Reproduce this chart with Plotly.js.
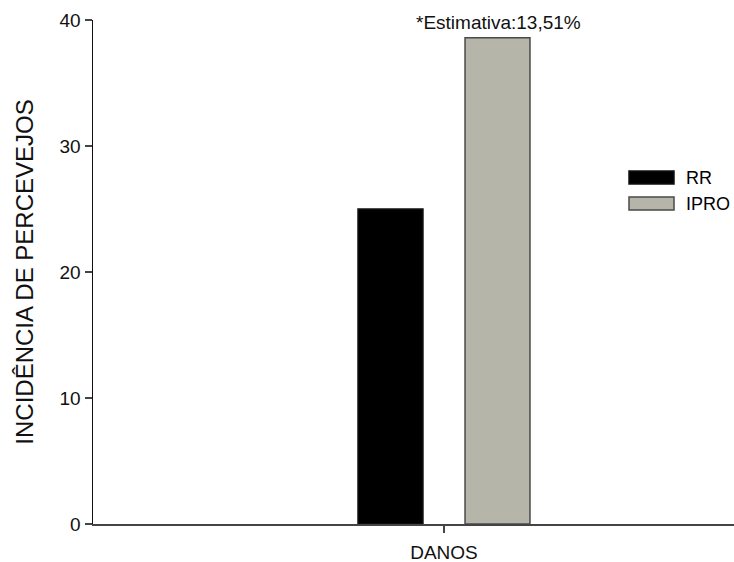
<!DOCTYPE html>
<html>
<head>
<meta charset="utf-8">
<script src="https://cdn.plot.ly/plotly-3.0.1.min.js"></script>
<style>html,body{margin:0;padding:0;background:#fff;}#chart{width:734px;height:562px;}</style>
</head>
<body>
<div id="chart"></div>
<script>
const categories = ['DANOS'];
const seriesNames = ['RR', 'IPRO'];
const rrValues = [25.0];
const iproValues = [38.6];
const yTicks = [0, 10, 20, 30, 40];
const yTitle = 'INCIDÊNCIA DE PERCEVEJOS';
const noteText = '*Estimativa:13,51%';

const fontFam = 'Liberation Sans, Arial, sans-serif';
const fills = ['#000000', '#b5b5a9'];
const edges = ['#111111', '#4a4a4a'];

const traces = [
  {type: 'bar', name: seriesNames[0], x: categories, y: rrValues,
   marker: {color: fills[0], line: {color: edges[0], width: 1.5}}},
  {type: 'bar', name: seriesNames[1], x: categories, y: iproValues,
   marker: {color: fills[1], line: {color: edges[1], width: 1.5}}}
];

// paper coordinate helpers (plot area 93..734 x, 20..524 y)
const px = v => (v - 93) / 641;
const py = v => (524 - v) / 504;

const legendShapes = [];
const legendAnns = [];
const boxTops = [171, 197];
seriesNames.forEach((n, i) => {
  legendShapes.push({type: 'rect', xref: 'paper', yref: 'paper',
    x0: px(629), x1: px(674), y0: py(boxTops[i] + 13), y1: py(boxTops[i]),
    fillcolor: fills[i], line: {color: edges[i], width: 1.5}});
  legendAnns.push({xref: 'paper', yref: 'paper', x: px(684), y: py(boxTops[i] + 6.5),
    xanchor: 'left', yanchor: 'middle', showarrow: false, text: n,
    font: {family: fontFam, size: 18, color: '#000'}});
});

const layout = {
  width: 734, height: 562,
  margin: {l: 93, r: 0, t: 20, b: 38, pad: 0},
  paper_bgcolor: '#ffffff', plot_bgcolor: '#ffffff',
  showlegend: false,
  barmode: 'group', bargap: 0, bargroupgap: 0.393,
  font: {family: fontFam, color: '#000'},
  xaxis: {type: 'category', range: [-1.640, 1.355], automargin: false,
    showline: true, linecolor: '#444', linewidth: 2, showgrid: false, zeroline: false,
    ticks: 'outside', ticklen: 7, tickcolor: '#444', tickwidth: 1.5, ticklabelstandoff: 3,
    tickfont: {family: fontFam, size: 19, color: '#111'}, fixedrange: true},
  yaxis: {range: [0, 40], tickvals: yTicks, automargin: false,
    showline: true, linecolor: '#111', linewidth: 1.5, showgrid: false, zeroline: false,
    ticks: 'outside', ticklen: 7, tickcolor: '#444', tickwidth: 1.5,
    tickfont: {family: fontFam, size: 19, color: '#111'},
    title: {text: yTitle, font: {family: fontFam, size: 24, color: '#111'}, standoff: 19}},
  shapes: legendShapes,
  annotations: legendAnns.concat([
    {x: categories[0], y: iproValues[0], xref: 'x', yref: 'y', xshift: 54, yshift: 3,
     xanchor: 'center', yanchor: 'bottom', showarrow: false, text: noteText,
     font: {family: fontFam, size: 19, color: '#111'}}
  ])
};

Plotly.newPlot('chart', traces, layout, {displayModeBar: false, staticPlot: true});
</script>
</body>
</html>
